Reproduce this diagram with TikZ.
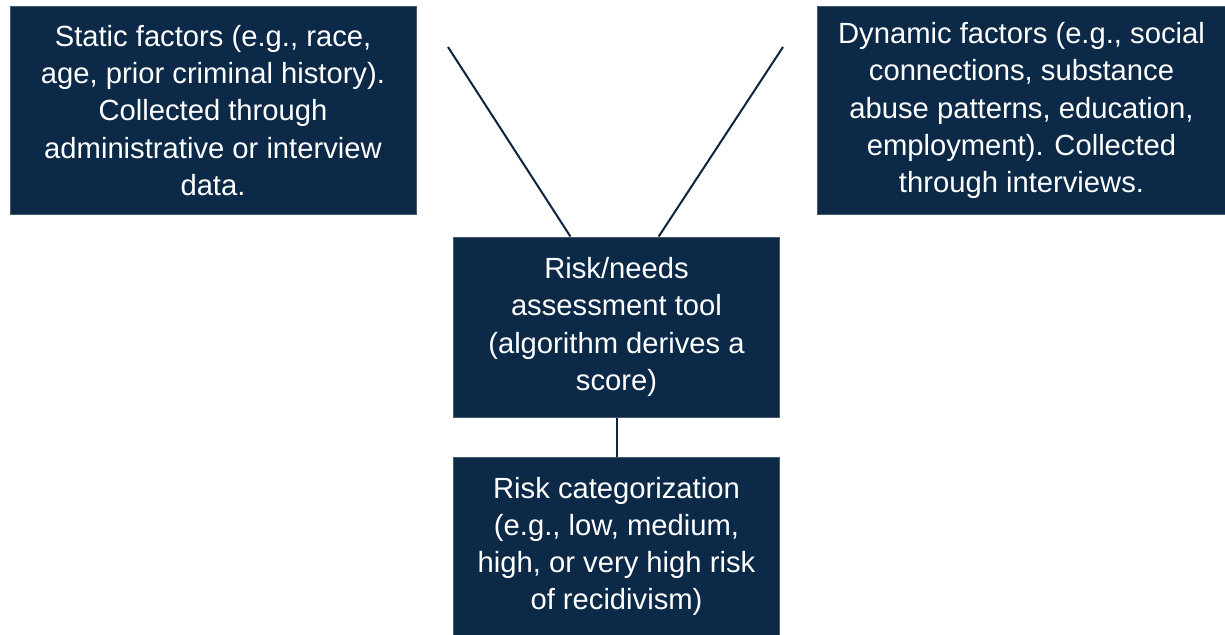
\documentclass[tikz,border=0pt]{standalone}
\usepackage{fontspec}
\setmainfont{Liberation Sans}
\definecolor{navy}{RGB}{12,41,72}
\definecolor{navyedge}{RGB}{70,88,108}
\begin{document}
\begin{tikzpicture}[x=0.75pt, y=-0.75pt,
    factorbox/.style={draw=navyedge, fill=navy, text=white, align=center,
      inner sep=0pt, line width=0.75pt,
      font=\fontsize{21.9}{27.9}\selectfont},
    link/.style={draw=navy!90!black, line width=1.5pt}]
  % Page
  \fill[white] (0,0) rectangle (1225,635);
  \useasboundingbox (0,0) rectangle (1225,635);

  % Input factors
  \node[factorbox, minimum width=304.5pt, minimum height=155.25pt] (static) at (213,110.5)
    {Static factors (e.g., race,\\ age, prior criminal history).\\ Collected through\\ administrative or interview\\ data.};
  \node[factorbox, minimum width=306.75pt, minimum height=155.25pt] (dynamic) at (1021.5,110.5)
    {Dynamic factors (e.g., social\\ connections, substance\\ abuse patterns, education,\\ employment). Collected\\ through interviews.};

  % Tool and result
  \node[factorbox, minimum width=244.5pt, minimum height=135pt] (tool) at (616.5,327)
    {Risk/needs\\ assessment tool\\ (algorithm derives a\\ score)};
  \node[factorbox, minimum width=244.5pt, minimum height=134.25pt] (category) at (616.5,546.5)
    {Risk categorization\\ (e.g., low, medium,\\ high, or very high risk\\ of recidivism)};

  % Connectors
  \coordinate (staticend) at (448,47);
  \coordinate (dynamicend) at (783,47);
  \draw[link] (staticend) -- (tool.117.6);
  \draw[link] (dynamicend) -- (tool.65);
  \draw[link] (tool.south) -- (category.north);
\end{tikzpicture}
\end{document}
